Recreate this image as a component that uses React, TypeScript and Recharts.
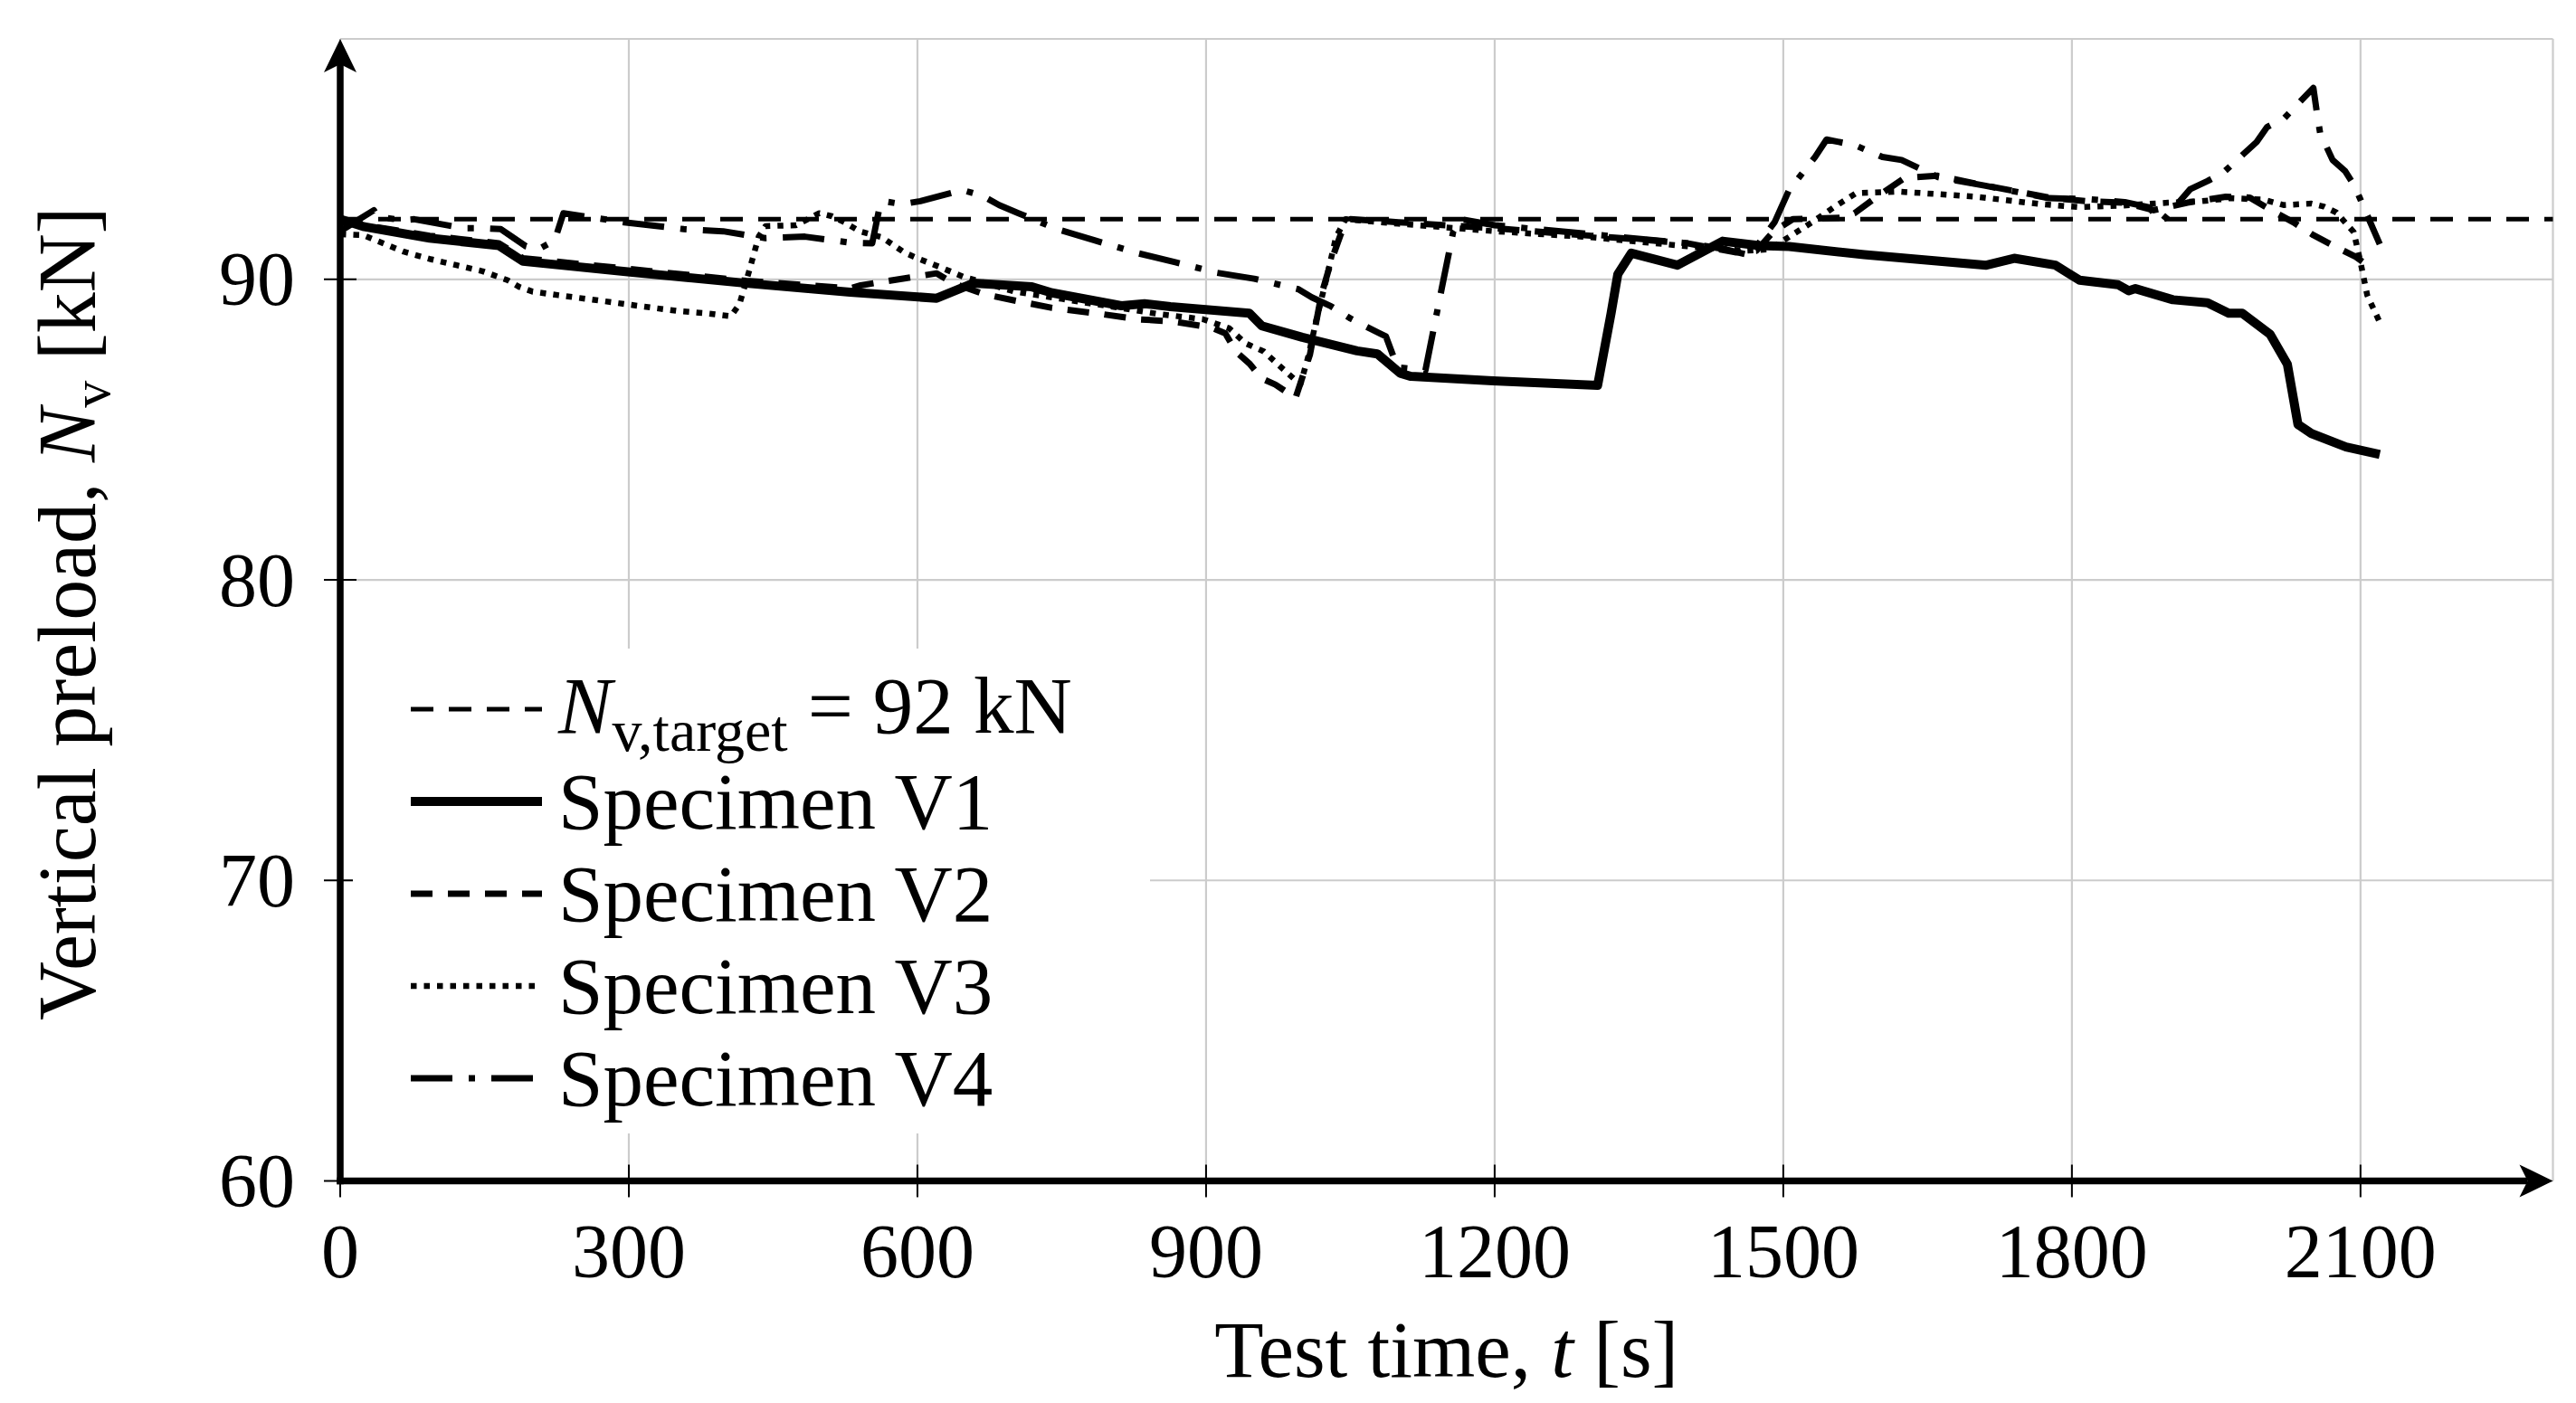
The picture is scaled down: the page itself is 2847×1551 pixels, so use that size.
import React from "react";
import {
  LineChart,
  Line,
  XAxis,
  YAxis,
  CartesianGrid,
  ReferenceLine,
  Legend,
  Label,
} from "recharts";

const FONT = '"Liberation Serif", "Times New Roman", serif';

const X_TICKS = [0, 300, 600, 900, 1200, 1500, 1800, 2100];
const Y_TICKS = [60, 70, 80, 90];
const TARGET = 92;

// test time [s] / vertical preload [kN]
const V1_T = [0, 25, 93, 165, 178, 190, 299, 422, 530, 620, 658, 719, 740, 812, 836, 863, 945, 958, 1000, 1057, 1078, 1102, 1113, 1198, 1307, 1321, 1328, 1342, 1390, 1437, 1475, 1506, 1584, 1711, 1740, 1783, 1808, 1848, 1859, 1866, 1905, 1941, 1963, 1977, 2006, 2024, 2035, 2049, 2085, 2120];
const V1_N = [92.0, 91.75, 91.37, 91.12, 90.85, 90.6, 90.25, 89.87, 89.57, 89.37, 89.87, 89.75, 89.55, 89.12, 89.19, 89.09, 88.87, 88.45, 88.07, 87.62, 87.52, 86.87, 86.77, 86.62, 86.47, 88.87, 90.17, 90.87, 90.47, 91.27, 91.12, 91.09, 90.82, 90.47, 90.7, 90.47, 89.97, 89.82, 89.62, 89.69, 89.32, 89.22, 88.87, 88.87, 88.17, 87.17, 85.17, 84.87, 84.42, 84.17];

const V2_T = [0, 25, 93, 165, 190, 299, 422, 530, 541, 570, 600, 620, 637, 670, 700, 740, 790, 830, 865, 905, 920, 931, 945, 958, 972, 993, 1008, 1020, 1030, 1040, 1050, 1100, 1200, 1300, 1400, 1450, 1472, 1490, 1510, 1560, 1574, 1594, 1626, 1660, 1710, 1776, 1815, 1855, 1885, 1920, 1960, 1985, 2006, 2030, 2051, 2073, 2095, 2110];
const V2_N = [91.9, 91.8, 91.45, 91.2, 90.7, 90.35, 89.95, 89.7, 89.8, 89.95, 90.1, 90.2, 89.87, 89.5, 89.3, 89.05, 88.85, 88.67, 88.6, 88.4, 88.2, 87.6, 87.2, 86.7, 86.5, 86.05, 87.5, 89.5, 90.6, 91.5, 92.0, 91.9, 91.7, 91.45, 91.2, 90.9, 90.95, 91.6, 92.0, 92.05, 92.2, 92.67, 93.37, 93.45, 93.12, 92.72, 92.6, 92.55, 92.3, 92.55, 92.75, 92.72, 92.32, 91.9, 91.47, 91.1, 90.75, 90.4];

const V3_T = [0, 24, 39, 66, 94, 121, 148, 174, 186, 200, 227, 268, 309, 350, 381, 406, 415, 425, 435, 442, 474, 498, 511, 524, 540, 563, 586, 600, 624, 649, 661, 700, 750, 800, 850, 897, 924, 941, 960, 984, 998, 1006, 1015, 1025, 1035, 1045, 1100, 1200, 1300, 1400, 1460, 1485, 1504, 1530, 1555, 1576, 1620, 1700, 1768, 1808, 1850, 1900, 1935, 1965, 2000, 2020, 2049, 2062, 2075, 2093, 2100, 2107, 2120];
const V3_N = [91.5, 91.47, 91.27, 90.92, 90.67, 90.47, 90.27, 89.97, 89.75, 89.59, 89.47, 89.3, 89.12, 88.95, 88.87, 88.77, 89.17, 90.27, 91.42, 91.77, 91.8, 92.2, 92.1, 91.9, 91.6, 91.4, 90.9, 90.7, 90.4, 90.07, 89.97, 89.6, 89.35, 89.1, 88.85, 88.67, 88.37, 87.87, 87.6, 86.9, 86.5, 87.4, 88.7, 90.0, 91.4, 92.0, 91.85, 91.6, 91.4, 91.1, 90.95, 91.0, 91.37, 91.9, 92.45, 92.87, 92.92, 92.75, 92.5, 92.4, 92.45, 92.55, 92.6, 92.7, 92.65, 92.47, 92.52, 92.42, 92.22, 91.57, 90.57, 89.47, 88.57];

const V4_T = [0, 20, 35, 39, 66, 77, 128, 148, 167, 193, 206, 223, 232, 295, 357, 398, 442, 483, 530, 553, 560, 565, 584, 603, 647, 668, 685, 705, 745, 784, 829, 868, 911, 950, 996, 1010, 1030, 1050, 1068, 1087, 1099, 1128, 1145, 1157, 1165, 1200, 1300, 1400, 1440, 1465, 1491, 1506, 1533, 1545, 1574, 1603, 1623, 1661, 1709, 1776, 1815, 1855, 1880, 1893, 1923, 1941, 1958, 1992, 2003, 2021, 2051, 2055, 2058, 2071, 2084, 2094, 2102, 2120];
const V4_N = [91.6, 92.0, 92.3, 92.07, 91.97, 92.0, 91.7, 91.7, 91.67, 91.1, 91.0, 91.3, 92.2, 91.9, 91.67, 91.6, 91.37, 91.42, 91.22, 91.2, 92.3, 92.6, 92.5, 92.6, 92.97, 92.77, 92.47, 92.2, 91.67, 91.3, 90.87, 90.57, 90.22, 90.02, 89.67, 89.4, 89.1, 88.7, 88.4, 88.1, 87.07, 86.97, 89.7, 91.6, 92.0, 91.8, 91.5, 91.2, 91.0, 90.8, 91.9, 92.97, 94.07, 94.65, 94.47, 94.07, 93.97, 93.4, 93.12, 92.7, 92.67, 92.57, 92.4, 91.9, 93.0, 93.27, 93.57, 94.57, 95.07, 95.37, 96.37, 95.47, 94.87, 93.97, 93.6, 93.1, 92.5, 91.17];

const rows = (t: number[], n: number[]) => t.map((v, i) => ({ t: v, n: n[i] }));

const TARGET_LINE = { width: 5, dash: "25 17" };
const SERIES = [
  { name: "Specimen V1", data: rows(V1_T, V1_N), width: 10, dash: undefined },
  { name: "Specimen V2", data: rows(V2_T, V2_N), width: 7, dash: "24 17" },
  { name: "Specimen V3", data: rows(V3_T, V3_N), width: 6.5, dash: "6.5 8" },
  { name: "Specimen V4", data: rows(V4_T, V4_N), width: 7, dash: "46 18 7 18" },
];

function XTick({ x, y, payload }: any) {
  return (
    <g>
      <line x1={x} x2={x} y1={y - 18} y2={y + 18} stroke="#000" strokeWidth={2} />
      <text x={x} y={y + 106} textAnchor="middle" fontFamily={FONT} fontSize={84} fill="#000">
        {payload.value}
      </text>
    </g>
  );
}

function YTick({ x, y, payload }: any) {
  return (
    <g>
      <line x1={x - 18} x2={x + 18} y1={y} y2={y} stroke="#000" strokeWidth={2} />
      <text x={x - 50} y={y} dy="0.34em" textAnchor="end" fontFamily={FONT} fontSize={84} fill="#000">
        {payload.value}
      </text>
    </g>
  );
}

function XTitle({ viewBox }: any) {
  const cx = viewBox.x + viewBox.width / 2;
  return (
    <text x={cx} y={viewBox.y + 216} textAnchor="middle" fontFamily={FONT} fontSize={89} fill="#000">
      Test time, <tspan fontStyle="italic">t</tspan> [s]
    </text>
  );
}

function YTitle({ viewBox }: any) {
  const bx = viewBox.x + viewBox.width - 271;
  const cy = viewBox.y + viewBox.height / 2 + 4;
  return (
    <text
      x={bx}
      y={cy}
      transform={`rotate(-90, ${bx}, ${cy})`}
      textAnchor="middle"
      fontFamily={FONT}
      fontSize={90}
      fill="#000"
    >
      Vertical preload, <tspan fontStyle="italic">N</tspan>
      <tspan fontSize={60} dy={16}>v</tspan>
      <tspan dy={-16}> [kN]</tspan>
    </text>
  );
}

// axis line with a LaTeX-style arrow head at the far end
const axisArrow = (dir: "x" | "y") => (p: any) => {
  const L = 37;
  const W = 18;
  const notch = 9;
  if (dir === "x") {
    const xs = Math.min(p.x1, p.x2) - 3.75;
    const xe = Math.max(p.x1, p.x2);
    const y = p.y1;
    return (
      <g>
        <line x1={xs} x2={xe - L + notch} y1={y} y2={y} stroke="#000" strokeWidth={7.5} />
        <path d={`M${xe},${y} L${xe - L},${y - W} L${xe - L + notch},${y} L${xe - L},${y + W} Z`} fill="#000" />
      </g>
    );
  }
  const ys = Math.max(p.y1, p.y2) + 3.75;
  const ye = Math.min(p.y1, p.y2);
  const x = p.x1;
  return (
    <g>
      <line x1={x} x2={x} y1={ys} y2={ye + L - notch} stroke="#000" strokeWidth={7.5} />
      <path d={`M${x},${ye} L${x - W},${ye + L} L${x},${ye + L - notch} L${x + W},${ye + L} Z`} fill="#000" />
    </g>
  );
};

function Sample({ width, dash }: { width: number; dash?: string }) {
  return (
    <svg width={145} height={24} style={{ display: "block", flex: "none" }}>
      <line x1={0} x2={145} y1={12} y2={12} stroke="#000" strokeWidth={width} strokeDasharray={dash} />
    </svg>
  );
}

function LegendBox() {
  const row = { display: "flex", alignItems: "center", height: 102 } as const;
  const txt = { marginLeft: 18, whiteSpace: "nowrap" } as const;
  return (
    <div
      style={{
        background: "#fff",
        width: 881,
        height: 536,
        boxSizing: "border-box",
        padding: "16px 0 0 64px",
        fontFamily: FONT,
        fontSize: 89,
        lineHeight: "102px",
        color: "#000",
      }}
    >
      <div style={row}>
        <Sample width={TARGET_LINE.width} dash={TARGET_LINE.dash} />
        <span style={txt}>
          <i>N</i>
          <span style={{ fontSize: 66, position: "relative", top: 20 }}>v,target</span>
          <span style={{ margin: "0 22px" }}>=</span>
          {TARGET} kN
        </span>
      </div>
      {SERIES.map((s) => (
        <div key={s.name} style={row}>
          <Sample width={s.width} dash={s.dash} />
          <span style={txt}>{s.name}</span>
        </div>
      ))}
    </div>
  );
}

export default function App() {
  return (
    <div style={{ position: "absolute", left: 0, top: 0, width: 2847, height: 1551, background: "#fff" }}>
      <LineChart width={2847} height={1551} margin={{ top: 43, right: 25.5, left: 276, bottom: 145.5 }}>
        <CartesianGrid stroke="#cccccc" strokeWidth={2.2} />
        <XAxis
          type="number"
          dataKey="t"
          domain={[0, 2300]}
          ticks={X_TICKS}
          interval={0}
          height={100}
          axisLine={false}
          tickLine={false}
          tickSize={0}
          tickMargin={0}
          tick={<XTick />}
          allowDataOverflow
        >
          <Label content={<XTitle />} />
        </XAxis>
        <YAxis
          type="number"
          domain={[60, 98]}
          ticks={Y_TICKS}
          interval={0}
          width={100}
          axisLine={false}
          tickLine={false}
          tickSize={0}
          tickMargin={0}
          tick={<YTick />}
          allowDataOverflow
        >
          <Label content={<YTitle />} />
        </YAxis>
        <ReferenceLine
          y={TARGET}
          stroke="#000"
          strokeWidth={TARGET_LINE.width}
          strokeDasharray={TARGET_LINE.dash}
        />
        {SERIES.map((s) => (
          <Line
            key={s.name}
            data={s.data}
            dataKey="n"
            name={s.name}
            type="linear"
            stroke="#000"
            strokeWidth={s.width}
            strokeDasharray={s.dash}
            strokeLinejoin="round"
            dot={false}
            activeDot={false}
            isAnimationActive={false}
          />
        ))}
        <ReferenceLine segment={[{ x: 0, y: 60 }, { x: 2300, y: 60 }]} shape={axisArrow("x")} />
        <ReferenceLine segment={[{ x: 0, y: 60 }, { x: 0, y: 98 }]} shape={axisArrow("y")} />
        <Legend
          layout="vertical"
          align="center"
          verticalAlign="middle"
          wrapperStyle={{ left: 390, top: 717, width: 881, height: 536 }}
          content={() => <LegendBox />}
        />
      </LineChart>
    </div>
  );
}
